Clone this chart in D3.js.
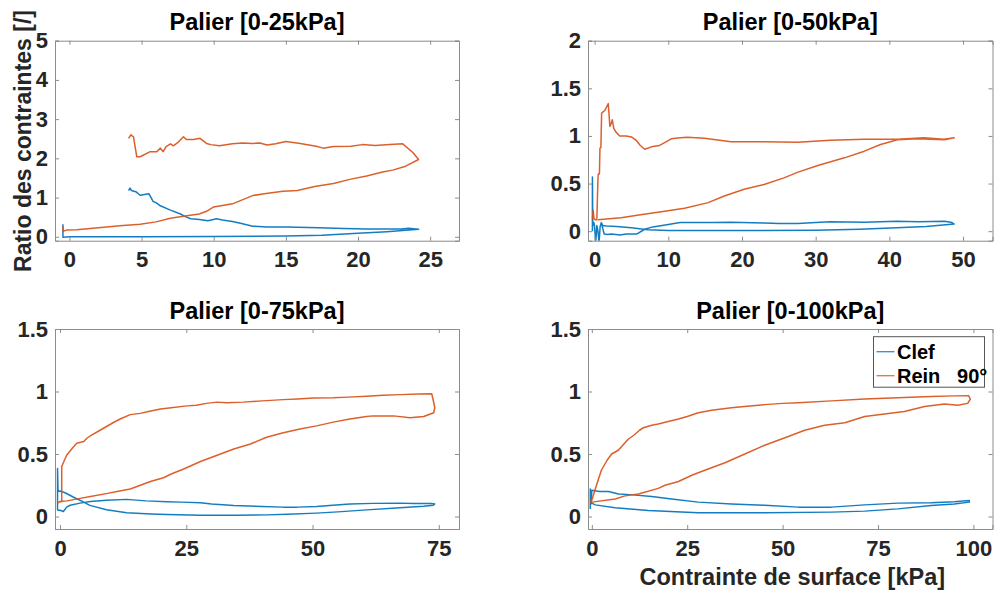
<!DOCTYPE html>
<html><head><meta charset="utf-8">
<script src="https://cdn.jsdelivr.net/npm/d3@7"></script>
<style>
body{margin:0;background:#fff;}
text{font-family:"Liberation Sans",Arial,Helvetica,sans-serif;font-weight:bold;}
</style></head>
<body><svg id="chart" width="996" height="597"></svg>
<script>
// ---------- data (x = surface stress kPa, y = ratio) ----------
const seriesNames = ["Clef", "Rein   90°"];
const titles = ["Palier [0-25kPa]", "Palier [0-50kPa]", "Palier [0-75kPa]", "Palier [0-100kPa]"];
const xTicks25 = [0,5,10,15,20,25];
const xTicks50 = [0,10,20,30,40,50];
const xTicks75 = [0,25,50,75];
const xTicks100 = [0,25,50,75,100];
const yTicks5 = [0,1,2,3,4,5];
const yTicks2 = [0,0.5,1,1.5,2];
const yTicks15 = [0,0.5,1,1.5];

const clef25 = [[-0.45,0.32],[-0.45,-0.01],[0,0.0],[5,0.0],[10,0.005],[15,0.02],[17.5,0.04],[20,0.09],[22,0.13],[24.2,0.19],
 [23.5,0.22],[23,0.2],[22,0.2],[20.6,0.2],[19,0.21],[17.3,0.23],[15,0.25],[13.7,0.25],[12.7,0.27],[12,0.33],[11.3,0.39],
 [10.6,0.43],[10.2,0.46],[9.6,0.41],[9,0.44],[8.4,0.46],[8,0.52],[7.7,0.58],[7,0.68],[6.3,0.79],[6,0.87],[5.8,0.9],
 [5.5,1.1],[5.2,1.08],[4.9,1.06],[4.6,1.15],[4.3,1.18],[4.2,1.24],[4.1,1.18]];
const rein25 = [[-0.45,0.26],[-0.45,0.14],[-0.2,0.17],[0.5,0.18],[2,0.23],[3.5,0.28],[4.9,0.32],[6,0.38],[7,0.47],[8,0.53],
 [9,0.58],[9.5,0.65],[10,0.76],[11.3,0.84],[12.7,1.05],[13.5,1.1],[14.8,1.16],[15.8,1.18],[17,1.28],[18.3,1.36],[19.5,1.47],
 [20.6,1.55],[21.7,1.65],[22.4,1.7],[23.3,1.8],[24.2,1.97],[23.8,2.15],[23.1,2.37],[22.2,2.35],[21.2,2.33],[20.3,2.35],
 [19.5,2.31],[18.3,2.3],[17.6,2.26],[17.1,2.31],[16,2.38],[15,2.43],[14.3,2.37],[13.7,2.34],[13.2,2.39],[12.7,2.38],
 [12,2.39],[11.3,2.37],[10.4,2.32],[9.8,2.35],[9.5,2.38],[9.05,2.51],[8.6,2.48],[8.1,2.48],[7.9,2.55],[7.5,2.4],[7.2,2.32],
 [7.0,2.37],[6.7,2.3],[6.5,2.17],[6.3,2.26],[6.05,2.17],[5.6,2.17],[4.9,2.04],[4.67,2.04],[4.44,2.55],[4.26,2.6],[4.1,2.51]];

const clef50 = [[-0.3,0.0],[-0.3,0.57],[-0.25,0.06],[-0.1,0.09],[0,0.04],[0.15,-0.12],[0.3,0.06],[0.45,0.0],[0.6,-0.12],
 [0.75,0.05],[0.9,0.09],[1.1,0.06],[1.6,0.055],[3,0.05],[5,0.035],[7.2,0.015],[10,0.008],[20,0.006],[30,0.01],[36,0.02],
 [41,0.035],[45,0.05],[48.8,0.075],[48.5,0.09],[47.5,0.105],[44,0.1],[41,0.105],[36.6,0.095],[32,0.1],[30,0.09],[27.6,0.08],
 [25,0.08],[23,0.085],[18.5,0.095],[16,0.09],[13.4,0.09],[11.6,0.09],[10,0.07],[7.9,0.045],[6.8,0.02],[5.7,-0.03],[4.3,-0.03],
 [3.4,-0.04],[2.9,-0.035],[2.2,-0.03],[1.8,-0.035],[1.3,-0.03],[0.9,0.09]];
const rein50 = [[-0.3,0.13],[-0.2,0.22],[-0.1,0.14],[0.04,0.12],[0.3,0.12],[0.45,0.55],[0.5,0.6],[0.65,0.6],[0.72,0.87],
 [0.85,0.88],[0.95,1.24],[1.4,1.27],[1.85,1.34],[2.07,1.1],[2.2,1.12],[2.4,1.17],[2.6,1.08],[2.9,1.04],[3.4,1.0],[4.3,1.0],
 [5.0,0.99],[5.7,0.95],[6.2,0.9],[6.8,0.86],[7.9,0.89],[8.8,0.9],[9.5,0.93],[10.4,0.97],[11.6,0.98],[12.6,0.985],[14.9,0.975],
 [18.5,0.94],[23,0.94],[27.6,0.935],[32,0.955],[36.6,0.965],[41.1,0.965],[44.7,0.98],[47.4,0.965],[48.8,0.98],[47.5,0.96],
 [45.6,0.965],[43.8,0.97],[41.1,0.96],[38.8,0.91],[36.6,0.84],[33.9,0.77],[30.3,0.69],[27.6,0.62],[25.7,0.56],[23,0.49],
 [20.3,0.44],[17.6,0.37],[15.4,0.3],[12.2,0.24],[9.5,0.21],[6,0.17],[3.6,0.14],[2,0.13],[0.45,0.12]];

const clef75 = [[-0.5,0.05],[-0.5,0.385],[-0.4,0.2],[0,0.204],[1,0.19],[2.6,0.156],[4.7,0.115],[5.9,0.089],[9.2,0.054],
 [13.2,0.03],[18,0.02],[21.2,0.016],[27.8,0.01],[35,0.01],[40.9,0.013],[45,0.018],[50.8,0.027],[55,0.037],[60.7,0.053],
 [67.3,0.07],[72,0.082],[73.9,0.09],[74.2,0.1],[73.5,0.105],[70,0.105],[67.3,0.107],[62,0.105],[57.4,0.1],[54,0.09],
 [50.8,0.08],[47,0.075],[44.2,0.075],[40,0.08],[34.4,0.088],[30,0.1],[27.8,0.11],[24,0.115],[21.2,0.118],[17,0.125],
 [13.2,0.137],[9.2,0.13],[6,0.12],[3.96,0.107],[2,0.09],[1.3,0.075],[0.66,0.04],[0,0.05],[-0.5,0.05]];
const rein75 = [[-0.5,0.107],[0,0.12],[0.33,0.117],[0.33,0.4],[1.3,0.49],[2.5,0.55],[3.3,0.586],[4.7,0.6],[5.3,0.626],
 [6.3,0.653],[7.5,0.68],[9.2,0.72],[10.5,0.75],[11.9,0.78],[13.9,0.815],[15.9,0.825],[17.5,0.84],[19.9,0.86],[22,0.87],
 [25.1,0.885],[27,0.89],[29,0.905],[31.1,0.915],[33,0.91],[36.3,0.915],[40,0.925],[44.2,0.935],[47,0.94],[50.2,0.948],
 [54.1,0.95],[57,0.955],[60.7,0.962],[64,0.97],[67.3,0.975],[71,0.98],[73.6,0.982],[73.9,0.93],[74.2,0.87],[74,0.83],
 [72,0.8],[69.3,0.79],[66,0.805],[62,0.805],[60.7,0.8],[57.4,0.78],[54.1,0.755],[50.8,0.725],[47.5,0.7],[44.2,0.67],
 [40.9,0.634],[37.7,0.58],[34.4,0.54],[31.1,0.49],[27.8,0.44],[24.5,0.38],[22,0.34],[20.5,0.31],[17.9,0.28],[13.9,0.22],
 [11.3,0.2],[9.2,0.183],[6,0.16],[4,0.145],[1.4,0.125],[0,0.12]];

const clef100 = [[-0.4,0.06],[-0.4,0.22],[-0.2,0.1],[0,0.21],[2,0.2],[4.4,0.2],[7,0.18],[10,0.175],[15.7,0.16],[20.9,0.14],
 [27.9,0.115],[36.6,0.1],[45.3,0.09],[54.1,0.075],[62.8,0.075],[71.5,0.093],[80.2,0.107],[88.9,0.11],[95,0.118],[98.9,0.128],
 [98.9,0.115],[95,0.1],[88.9,0.088],[80.2,0.061],[71.5,0.043],[62.8,0.035],[45.3,0.03],[27.9,0.03],[14.8,0.048],[6.1,0.07],
 [0.9,0.093],[0,0.107]];
const rein100 = [[-0.45,0.115],[0,0.13],[0.8,0.21],[2.5,0.37],[4,0.45],[5.2,0.5],[6.95,0.53],[8.7,0.59],[9.6,0.62],
 [11,0.65],[12.5,0.69],[13.5,0.71],[15.7,0.73],[17.4,0.74],[20,0.76],[22.7,0.78],[25,0.8],[27.9,0.83],[31.4,0.85],
 [36.6,0.87],[40,0.88],[45.3,0.895],[50,0.905],[54.1,0.91],[62.8,0.925],[71.5,0.94],[80.2,0.95],[88.9,0.96],[95,0.965],
 [98.7,0.967],[99.2,0.94],[98.5,0.905],[95.9,0.89],[92.4,0.9],[87.2,0.88],[81.9,0.84],[76.7,0.82],[71.5,0.8],[66.3,0.75],
 [61,0.73],[55.8,0.69],[50.6,0.63],[45.3,0.57],[40.1,0.5],[34.9,0.43],[29.6,0.37],[26.2,0.33],[22.7,0.28],[19.2,0.25],
 [17.4,0.225],[12.2,0.18],[8.7,0.165],[6.1,0.14],[0,0.115],[-0.45,0.115]];

// ---------- layout ----------
const colors = ["#0072BD", "#D95319"];
const panels = [
  {title: titles[0], clef: clef25, rein: rein25, xd: [-1,27], yd: [-0.1,5], xt: xTicks25, yt: yTicks5, box: [55,40.7,459,240.7]},
  {title: titles[1], clef: clef50, rein: rein50, xd: [-0.9,54], yd: [-0.1,2], xt: xTicks50, yt: yTicks2, box: [588,40.7,992.5,240.7]},
  {title: titles[2], clef: clef75, rein: rein75, xd: [-1,79], yd: [-0.1,1.5], xt: xTicks75, yt: yTicks15, box: [55,329,459,529]},
  {title: titles[3], clef: clef100, rein: rein100, xd: [-1,105], yd: [-0.1,1.5], xt: xTicks100, yt: yTicks15, box: [588,329,992.5,529]}
];

const svg = d3.select("#chart");
svg.append("rect").attr("width",996).attr("height",597).attr("fill","#fff");

const fmt = d => String(d);
panels.forEach((p, i) => {
  const [x0,y0,x1,y1] = p.box;
  const x = d3.scaleLinear().domain(p.xd).range([x0,x1]);
  const y = d3.scaleLinear().domain(p.yd).range([y1,y0]);
  const g = svg.append("g");
  const cid = "clip"+i;
  svg.append("clipPath").attr("id",cid).append("rect").attr("x",x0).attr("y",y0).attr("width",x1-x0).attr("height",y1-y0);

  const line = d3.line().x(d=>x(d[0])).y(d=>y(d[1]));
  const lg = g.append("g").attr("clip-path",`url(#${cid})`);
  [p.clef, p.rein].forEach((s, k) => {
    lg.append("path").datum(s).attr("d", line).attr("fill","none")
      .attr("stroke", colors[k]).attr("stroke-width", 1.5).attr("stroke-opacity",0.92).attr("stroke-linejoin","round");
  });

  // axes (ticks inside, box on)
  const axColor = "#8c8c8c";
  const tl = 4;
  const bottom = d3.axisBottom(x).tickValues(p.xt).tickSize(-tl).tickFormat(fmt).tickPadding(8);
  const top = d3.axisTop(x).tickValues(p.xt).tickSize(-tl).tickFormat("");
  const left = d3.axisLeft(y).tickValues(p.yt).tickSize(-tl).tickFormat(fmt).tickPadding(7);
  const right = d3.axisRight(y).tickValues(p.yt).tickSize(-tl).tickFormat("");
  const ab = g.append("g").attr("transform",`translate(0,${y1})`).call(bottom);
  const at = g.append("g").attr("transform",`translate(0,${y0})`).call(top);
  const al = g.append("g").attr("transform",`translate(${x0},0)`).call(left);
  const ar = g.append("g").attr("transform",`translate(${x1},0)`).call(right);
  [ab,at,al,ar].forEach(a => {
    a.select(".domain").attr("stroke",axColor).attr("stroke-width",1);
    a.selectAll(".tick line").attr("stroke",axColor);
    a.selectAll(".tick text").attr("fill","#262626").attr("font-size",22).attr("font-weight","bold")
      .attr("font-family",'"Liberation Sans",Arial,sans-serif');
  });
  ab.selectAll(".tick text").attr("dy","0.85em");

  g.append("text").attr("x",(x0+x1)/2).attr("y",y0-10.5).attr("text-anchor","middle")
    .attr("font-size",23.5).attr("fill","#000").text(p.title);

  if (i === 3) {
    // legend
    const lgX = 873.5, lgY = 336.7, lgW = 111, lgH = 50.5;
    const leg = svg.append("g");
    leg.append("rect").attr("x",lgX).attr("y",lgY).attr("width",lgW).attr("height",lgH)
      .attr("fill","#fff").attr("stroke","#555").attr("stroke-width",1);
    seriesNames.forEach((n, k) => {
      const cy = lgY + 15 + k*24;
      leg.append("line").attr("x1",lgX+3).attr("x2",lgX+21).attr("y1",cy).attr("y2",cy)
        .attr("stroke",colors[k]).attr("stroke-width",1.3).attr("opacity",0.8);
      leg.append("text").attr("x",lgX+23.5).attr("y",cy).attr("dy","0.35em").attr("font-size",20)
        .attr("fill","#000").attr("xml:space","preserve").style("white-space","pre").text(n);
    });
    svg.append("text").attr("x",(x0+x1)/2 + 2).attr("y",585).attr("text-anchor","middle")
      .attr("font-size",23.5).attr("fill","#262626").text("Contrainte de surface [kPa]");
  }
});

svg.append("text").attr("transform","translate(31,141) rotate(-90)").attr("text-anchor","middle")
  .attr("font-size",23).attr("fill","#262626").text("Ratio des contraintes [/]");
</script></body></html>
